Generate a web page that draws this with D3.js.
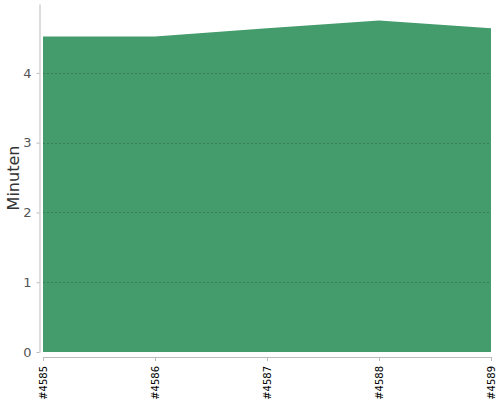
<!DOCTYPE html>
<html>
<head>
<meta charset="utf-8">
<script src="https://cdn.jsdelivr.net/npm/d3@7.9.0/dist/d3.min.js"></script>
<style>
    body { margin: 0; background: #fff; }
    svg, svg text { font-family: 'DejaVu Sans', sans-serif; }
    svg { display: block; }
    .y-axis text { fill: #555; font-size: 13px; }
    .x-axis text { fill: #000; font-size: 10px; }
    .domain, .tick line { stroke: #bbb; }
</style>
</head>
<body>
<div id="chart"></div>
<script>
const builds = ['#4585', '#4586', '#4587', '#4588', '#4589'];
const minutes = [4.52, 4.52, 4.64, 4.75, 4.64];
const yTicks = [0, 1, 2, 3, 4];

const width = 500;
const height = 400;
const margin = { top: 4, right: 9, bottom: 48, left: 43 };

const svg = d3.select('#chart')
    .append('svg')
    .attr('width', width)
    .attr('height', height);

const xScale = d3.scalePoint()
    .domain(builds)
    .range([margin.left, width - margin.right]);

const yScale = d3.scaleLinear()
    .domain([0, d3.max(minutes) * 1.05])
    .range([height - margin.bottom, margin.top]);

const rows = builds.map((b, i) => ({ build: b, value: minutes[i] }));

// area
const area = d3.area()
    .x((d) => xScale(d.build))
    .y0(yScale(0))
    .y1((d) => yScale(d.value));

svg.append('path')
    .datum(rows)
    .attr('d', area)
    .attr('fill', '#449b6c');

// gridlines on top of the area
svg.append('g')
    .selectAll('line')
    .data(yTicks.filter((t) => t > 0))
    .join('line')
    .attr('x1', margin.left)
    .attr('x2', width - margin.right)
    .attr('y1', (d) => Math.round(yScale(d)) + 0.5)
    .attr('y2', (d) => Math.round(yScale(d)) + 0.5)
    .attr('stroke', 'rgba(0,0,0,0.18)')
    .attr('stroke-dasharray', '2,2');

// y axis (offset a little to the left)
svg.append('g')
    .attr('class', 'y-axis')
    .attr('transform', `translate(${margin.left - 3.5}, 0)`)
    .call(d3.axisLeft(yScale).tickValues(yTicks).tickFormat(d3.format('d'))
        .tickSize(3).tickSizeOuter(0).tickPadding(5));

// x axis (offset a little downward)
svg.append('g')
    .attr('class', 'x-axis')
    .attr('transform', `translate(0, ${height - margin.bottom + 5})`)
    .call(d3.axisBottom(xScale).tickSize(4).tickSizeOuter(0))
    .selectAll('text')
    .attr('transform', 'rotate(-90)')
    .attr('text-anchor', 'end')
    .attr('dx', '-0.5em')
    .attr('dy', '0.35em')
    .attr('x', -4)
    .attr('y', 0);

// y label
svg.append('text')
    .attr('transform', `translate(19, ${(margin.top + height - margin.bottom) / 2}) rotate(-90)`)
    .attr('text-anchor', 'middle')
    .attr('fill', '#333')
    .style('font-size', '16px')
    .text('Minuten');
</script>
</body>
</html>
